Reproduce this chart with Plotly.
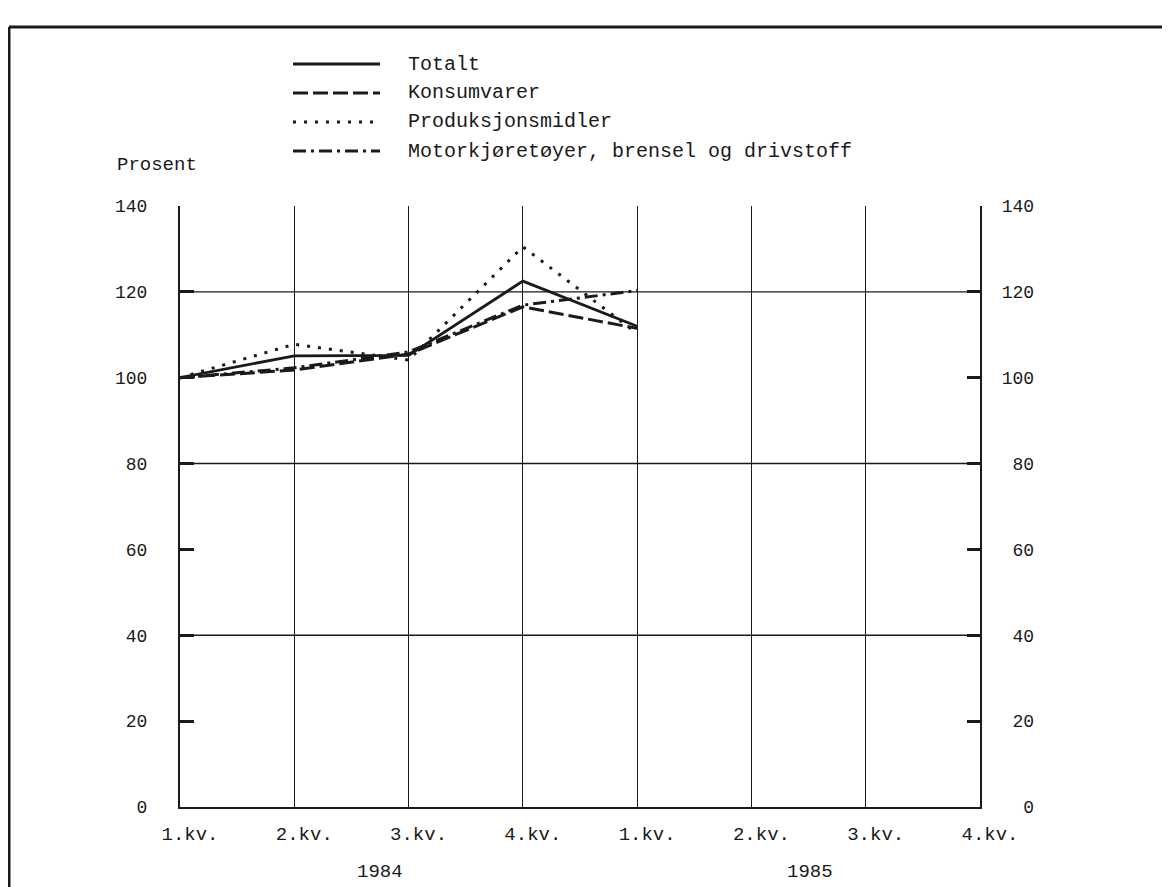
import plotly.graph_objects as go

# ---- data ----
quarter_labels = ["1.kv.", "2.kv.", "3.kv.", "4.kv.", "1.kv.", "2.kv.", "3.kv.", "4.kv."]
quarter_pos = [0, 1, 2, 3, 4, 5, 6, 7]
year_labels = ["1984", "1985"]
year_pos = [1.75, 5.51]
obs_pos = [0, 1, 2, 3, 4]
totalt = [100, 105.1, 105.2, 122.5, 112.0]
konsumvarer = [100, 101.8, 105.5, 116.5, 111.5]
produksjonsmidler = [100, 107.8, 104.1, 130.5, 110.3]
motor = [100, 102.3, 106.0, 116.9, 120.3]
y_ticks = [0, 20, 40, 60, 80, 100, 120, 140]
y_ticktext = ["0", "20", "40", "60", "80", "100", "120", "140"]
grid_levels = [40, 80, 120]

series = [
    ("Totalt", totalt, "solid", 2.8),
    ("Konsumvarer", konsumvarer, "15px,5px", 3.0),
    ("Produksjonsmidler", produksjonsmidler, "3px,8px", 3.0),
    ("Motorkjøretøyer, brensel og drivstoff", motor, "13px,5px,3px,5px", 3.0),
]

FONT = "Liberation Mono"
INK = "#1a1a1a"
W, H = 1170, 887
# page body has an 8px margin: positions below are figure coordinates
L, R, T, B = 172, 972, 198, 799


def px(x):
    return (x - L) / (R - L)


def py(y):
    return (B - y) / (B - T)


fig = go.Figure()
for name, vals, dash, w in series:
    fig.add_trace(go.Scatter(
        x=obs_pos, y=vals, mode="lines", name=name,
        line=dict(color=INK, width=w, dash=dash),
        showlegend=False, yaxis="y",
    ))
fig.add_trace(go.Scatter(x=[0], y=[0], mode="markers", marker=dict(opacity=0),
                         showlegend=False, yaxis="y2", hoverinfo="skip"))

shapes = []
for g in grid_levels:
    shapes.append(dict(type="line", xref="x", yref="y", x0=0, x1=7, y0=g, y1=g,
                       line=dict(color=INK, width=1.4), layer="below"))

# legend samples
leg_y = [56, 85, 114, 143]
for (name, vals, dash, w), ly in zip(series, leg_y):
    shapes.append(dict(type="line", xref="paper", yref="paper",
                       x0=px(285), x1=px(372), y0=py(ly), y1=py(ly),
                       line=dict(color=INK, width=w, dash=dash)))

# frame
shapes.append(dict(type="line", xref="paper", yref="paper", x0=px(1), x1=px(1175),
                   y0=py(19), y1=py(19), line=dict(color=INK, width=3)))
shapes.append(dict(type="line", xref="paper", yref="paper", x0=px(1), x1=px(1),
                   y0=py(19), y1=py(895), line=dict(color=INK, width=3)))

annotations = []
for (name, vals, dash, w), ly in zip(series, leg_y):
    annotations.append(dict(text=name, xref="paper", yref="paper", x=px(398), y=py(ly),
                            xanchor="left", yanchor="middle", showarrow=False,
                            font=dict(family=FONT, size=20, color=INK)))
annotations.append(dict(text="Prosent", xref="paper", yref="paper", x=px(107), y=py(157),
                        xanchor="left", yanchor="middle", showarrow=False,
                        font=dict(family=FONT, size=19, color=INK)))
for lab, pos in zip(year_labels, year_pos):
    annotations.append(dict(text=lab, xref="x", yref="paper", x=pos, y=py(864),
                            xanchor="center", yanchor="middle", showarrow=False,
                            font=dict(family=FONT, size=19, color=INK)))

right_text = [t.rjust(3).replace(" ", "\u00a0") for t in y_ticktext]

fig.update_layout(
    width=W, height=H,
    margin=dict(l=L, r=W - R, t=T, b=H - B),
    paper_bgcolor="white", plot_bgcolor="white",
    showlegend=False,
    font=dict(family=FONT, size=18, color=INK),
    xaxis=dict(range=[0, 7], tickvals=quarter_pos, ticktext=quarter_labels,
               showgrid=True, gridcolor=INK, gridwidth=1.4, zeroline=False,
               showline=True, linecolor=INK, linewidth=2.2, ticks="",
               ticklabelstandoff=8, ticklabelshift=10,
               tickfont=dict(family=FONT, size=19, color=INK)),
    yaxis=dict(range=[0, 140], tickvals=y_ticks, ticktext=y_ticktext,
               showgrid=False, zeroline=False,
               showline=True, linecolor=INK, linewidth=2.2,
               ticks="inside", ticklen=14, tickwidth=3, tickcolor=INK,
               ticklabelstandoff=27,
               tickfont=dict(family=FONT, size=18, color=INK)),
    yaxis2=dict(range=[0, 140], tickvals=y_ticks, ticktext=right_text,
                overlaying="y", side="right",
                showgrid=False, zeroline=False,
                showline=True, linecolor=INK, linewidth=2.2,
                ticks="inside", ticklen=13, tickwidth=3, tickcolor=INK,
                ticklabelstandoff=16,
                tickfont=dict(family=FONT, size=18, color=INK)),
    shapes=shapes, annotations=annotations,
)

fig.write_html("out.html")
